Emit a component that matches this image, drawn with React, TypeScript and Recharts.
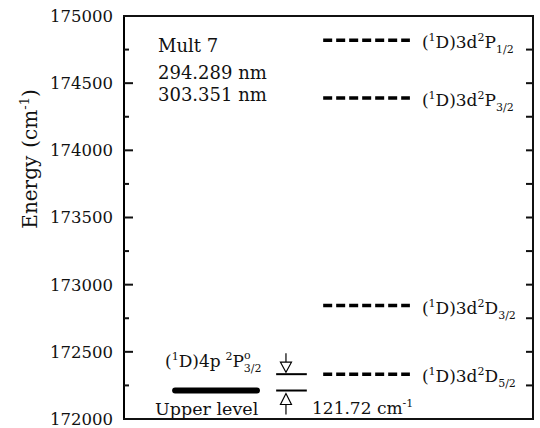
import { ComposedChart, Line, ReferenceDot, XAxis, YAxis } from "recharts";

// term energies in cm^-1
const upperEnergy = 172212;
const splitting = 121.72;
const lowerTerms = ["P", "P", "D", "D"];
const lowerJ = ["1/2", "3/2", "3/2", "5/2"];
const lowerEnergies = [174820, 174390, 172844, 172333.72];
const wavelengths = ["294.289 nm", "303.351 nm"];
const energyTicks = [
	172000, 172250, 172500, 172750, 173000, 173250, 173500, 173750, 174000,
	174250, 174500, 174750, 175000,
];
const E_MIN = 172000;
const E_MAX = 175000;

const FONT = "DejaVu Serif";
const INK = "#111";

const W = 540;
const H = 428;
const MARGIN = { top: 16, right: 7, bottom: 9, left: 0 };
const AXIS_W = 124;
const PLOT_LEFT = MARGIN.left + AXIS_W;
const PLOT_RIGHT = W - MARGIN.right;
const PLOT_TOP = MARGIN.top;
const PLOT_BOTTOM = H - MARGIN.bottom;

// horizontal columns on a 0..100 scale
const UPPER_SPAN = [12.5, 32.5];
const MARK_SPAN = [37.2, 44.7];
const ARROW_X = 39.6;
const LOWER_SPAN = [48.7, 69.9];

const seg = (span: number[], e: number) => [
	{ x: span[0], e },
	{ x: span[1], e },
];

// left labels with inward ticks, mirrored short ticks on the right edge
function EnergyTick({ x, y, payload }: any) {
	const major = payload.value % 500 === 0;
	const edge = payload.value === E_MIN || payload.value === E_MAX;
	return (
		<g>
			<rect x={x} y={y - 1} width={major ? 9 : 5} height={2} fill={INK} />
			{!edge && <rect x={PLOT_RIGHT - 7} y={y - 1} width={7} height={2} fill={INK} />}
			{major && (
				<text x={x - 11} y={y} dy="0.36em" textAnchor="end" fontSize={16.5} fontFamily={FONT} fill={INK}>
					{payload.value}
				</text>
			)}
		</g>
	);
}

function LevelLabel({ x, y, term, j }: any) {
	return (
		<text x={x + 12} y={y + 8} fontSize={17} fontFamily={FONT} fill={INK}>
			(<tspan fontSize={11} dy={-7}>1</tspan>
			<tspan dy={7}>D)3d</tspan>
			<tspan fontSize={11} dy={-7}>2</tspan>
			<tspan dy={7}>{term}</tspan>
			<tspan fontSize={11} dy={5}>{j}</tspan>
		</text>
	);
}

function DownArrow({ cx, cy }: any) {
	return (
		<g stroke="#000" strokeWidth={1.2} fill="#fff">
			<line x1={cx} x2={cx} y1={cy - 21} y2={cy - 12} />
			<path d={`M${cx - 5.5},${cy - 12} L${cx + 5.5},${cy - 12} L${cx},${cy - 2} Z`} />
		</g>
	);
}

function UpArrow({ cx, cy }: any) {
	return (
		<g stroke="#000" strokeWidth={1.2} fill="#fff">
			<line x1={cx} x2={cx} y1={cy + 14} y2={cy + 24} />
			<path d={`M${cx - 5.5},${cy + 14} L${cx + 5.5},${cy + 14} L${cx},${cy + 3} Z`} />
		</g>
	);
}

export default function App() {
	return (
		<div style={{ position: "absolute", left: 0, top: 0, width: W, height: H, background: "#fff" }}>
			<ComposedChart width={W} height={H} margin={MARGIN}>
				<XAxis xAxisId="b" type="number" dataKey="x" domain={[0, 100]} hide />
				<YAxis
					yAxisId="e"
					type="number"
					domain={[E_MIN, E_MAX]}
					ticks={energyTicks}
					interval={0}
					width={AXIS_W}
					tickSize={0}
					tickMargin={0}
					tickLine={false}
					tick={<EnergyTick />}
					axisLine={{ stroke: "#000", strokeWidth: 2 }}
				/>

				<Line
					xAxisId="b"
					yAxisId="e"
					data={seg(UPPER_SPAN, upperEnergy)}
					dataKey="e"
					stroke="#000"
					strokeWidth={6}
					strokeLinecap="round"
					dot={false}
					activeDot={false}
					isAnimationActive={false}
				/>
				<Line xAxisId="b" yAxisId="e" data={seg(MARK_SPAN, upperEnergy)} dataKey="e" stroke="#000" strokeWidth={2} dot={false} activeDot={false} isAnimationActive={false} />
				<Line xAxisId="b" yAxisId="e" data={seg(MARK_SPAN, upperEnergy + splitting)} dataKey="e" stroke="#000" strokeWidth={2} dot={false} activeDot={false} isAnimationActive={false} />

				{lowerEnergies.map((e, i) => (
					<Line
						key={i}
						xAxisId="b"
						yAxisId="e"
						data={seg(LOWER_SPAN, e)}
						dataKey="e"
						stroke="#000"
						strokeWidth={3.5}
						strokeDasharray="9 4"
						dot={false}
						activeDot={false}
						isAnimationActive={false}
						label={(p: any) =>
							p.index === 1 ? (
								<LevelLabel key="l" x={p.x} y={p.y} term={lowerTerms[i]} j={lowerJ[i]} />
							) : (
								<g key="n" />
							)
						}
					/>
				))}

				<ReferenceDot xAxisId="b" yAxisId="e" x={ARROW_X} y={upperEnergy + splitting} shape={(p: any) => <DownArrow {...p} />} />
				<ReferenceDot xAxisId="b" yAxisId="e" x={ARROW_X} y={upperEnergy} shape={(p: any) => <UpArrow {...p} />} />
			</ComposedChart>

			<svg width={W} height={H} style={{ position: "absolute", left: 0, top: 0, pointerEvents: "none" }}>
				{/* plot frame: top, right, bottom as filled bars */}
				<g fill={INK}>
					<rect x={PLOT_LEFT - 1} y={PLOT_TOP - 1} width={PLOT_RIGHT - PLOT_LEFT + 2} height={2} />
					<rect x={PLOT_RIGHT - 1} y={PLOT_TOP - 1} width={2} height={PLOT_BOTTOM - PLOT_TOP + 2} />
					<rect x={PLOT_LEFT - 1} y={PLOT_BOTTOM - 1} width={PLOT_RIGHT - PLOT_LEFT + 2} height={2} />
				</g>
				<g fontFamily={FONT} fill={INK}>
					<text x={158} y={52} fontSize={18}>Mult 7</text>
					<text x={158} y={79} fontSize={18}>{wavelengths[0]}</text>
					<text x={158} y={101} fontSize={18}>{wavelengths[1]}</text>

					<text x={165} y={367} fontSize={17}>
						(<tspan fontSize={11} dy={-7}>1</tspan>
						<tspan dy={7}>D)4p</tspan>
						<tspan fontSize={11} dx={5} dy={-7}>2</tspan>
						<tspan dy={7}>P</tspan>
						<tspan fontSize={11} dy={-8}>o</tspan>
						<tspan fontSize={11} dx={-7} dy={13}>3/2</tspan>
					</text>
					<text x={155} y={415} fontSize={17.5}>Upper level</text>
					<text x={312} y={414} fontSize={17}>
						{splitting} cm<tspan fontSize={11} dy={-7}>-1</tspan>
					</text>

					<text x={37} y={159} fontSize={20} textAnchor="middle" transform="rotate(-90, 37, 159)">
						Energy<tspan dx={8}>(cm</tspan>
						<tspan fontSize={13} dy={-8}>-1</tspan>
						<tspan dy={8}>)</tspan>
					</text>
				</g>
			</svg>
		</div>
	);
}
